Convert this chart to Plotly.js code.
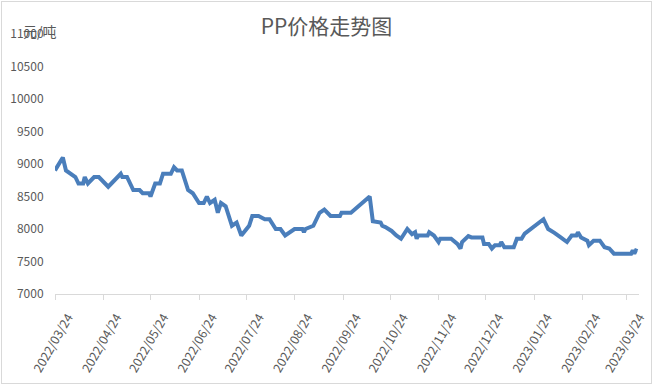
<!DOCTYPE html>
<html>
<head>
<meta charset="utf-8">
<script src="https://cdn.plot.ly/plotly-3.0.1.min.js"></script>
<style>
html,body{margin:0;padding:0;background:#fff;}
#wrap{position:relative;width:653px;height:385px;}
#chart{width:653px;height:385px;}
#frame{position:absolute;left:1px;top:1px;width:649px;height:381px;border:1px solid #d9d9d9;pointer-events:none;}
</style>
</head>
<body>
<div id="wrap"><div id="chart"></div><div id="frame"></div></div>
<script>
// Dates of the price series (vertices)
const dates = [
 '2022-03-24','2022-03-29','2022-03-31','2022-04-06','2022-04-08','2022-04-11','2022-04-12','2022-04-14',
 '2022-04-18','2022-04-21','2022-04-27','2022-05-05','2022-05-06','2022-05-09','2022-05-13','2022-05-17',
 '2022-05-19','2022-05-23','2022-05-24','2022-05-27','2022-05-30','2022-06-01','2022-06-06','2022-06-08',
 '2022-06-10','2022-06-13','2022-06-17','2022-06-20','2022-06-24','2022-06-27','2022-06-29','2022-07-01',
 '2022-07-04','2022-07-06','2022-07-08','2022-07-11','2022-07-15','2022-07-18','2022-07-21','2022-07-26',
 '2022-07-28','2022-08-01','2022-08-05','2022-08-08','2022-08-12','2022-08-15','2022-08-18','2022-08-24',
 '2022-08-29','2022-08-30','2022-08-31','2022-09-05','2022-09-09','2022-09-12','2022-09-16','2022-09-22',
 '2022-09-23','2022-09-29','2022-10-11','2022-10-13','2022-10-18','2022-10-19','2022-10-21','2022-10-25',
 '2022-10-28','2022-10-31','2022-11-04','2022-11-07','2022-11-09','2022-11-10','2022-11-11','2022-11-17',
 '2022-11-18','2022-11-21','2022-11-24','2022-11-25','2022-12-02','2022-12-06','2022-12-08','2022-12-09',
 '2022-12-13','2022-12-15','2022-12-22','2022-12-23','2022-12-26','2022-12-28','2022-12-30','2023-01-02',
 '2023-01-03','2023-01-05','2023-01-11','2023-01-13','2023-01-16','2023-01-18','2023-01-30','2023-02-02',
 '2023-02-06','2023-02-08','2023-02-10','2023-02-14','2023-02-17','2023-02-20','2023-02-21','2023-02-23',
 '2023-02-27','2023-02-28','2023-03-03','2023-03-07','2023-03-10','2023-03-13','2023-03-16','2023-03-27',
 '2023-03-28','2023-03-29','2023-03-30','2023-03-31'
];
// PP price, 元/吨
const prices = [
 8900,9100,8900,8800,8700,8700,8800,8700,
 8800,8800,8650,8850,8800,8800,8600,8600,
 8550,8550,8500,8700,8700,8850,8850,8950,
 8900,8900,8600,8550,8400,8400,8500,8400,
 8450,8250,8400,8350,8050,8100,7900,8050,
 8200,8200,8150,8150,8000,8000,7900,8000,
 8000,7950,8000,8050,8250,8300,8200,8200,
 8250,8250,8500,8120,8100,8050,8030,7970,
 7900,7850,8000,7920,7950,7850,7900,7900,
 7950,7900,7800,7850,7850,7770,7700,7800,
 7890,7870,7870,7770,7770,7700,7750,7750,
 7800,7720,7720,7850,7850,7930,8150,8000,
 7940,7900,7870,7800,7900,7900,7950,7870,
 7820,7750,7820,7820,7720,7700,7620,7620,
 7670,7620,7670,7660
];
const tickDates = ['2022-03-24','2022-04-24','2022-05-24','2022-06-24','2022-07-24','2022-08-24','2022-09-24',
 '2022-10-24','2022-11-24','2022-12-24','2023-01-24','2023-02-24','2023-03-24'];
const tickLabels = ['2022/03/24','2022/04/24','2022/05/24','2022/06/24','2022/07/24','2022/08/24','2022/09/24',
 '2022/10/24','2022/11/24','2022/12/24','2023/01/24','2023/02/24','2023/03/24'];
const titleText = 'PP价格走势图';
const unitText = '元/吨';

const FONT = '"Noto Sans CJK SC", "Noto Sans", sans-serif';
const GRAY = '#595959';

Plotly.newPlot('chart', [{
  x: dates, y: prices, type: 'scatter', mode: 'lines',
  line: {color: '#4A7EBB', width: 4},
  hoverinfo: 'skip'
}], {
  width: 653, height: 385,
  margin: {l: 55, r: 14, t: 34, b: 91},
  paper_bgcolor: '#fff', plot_bgcolor: '#fff',
  showlegend: false,
  title: {text: titleText, font: {family: FONT, size: 21, color: GRAY}, x: 0.5, xanchor: 'center', y: 0.93, yanchor: 'middle'},
  xaxis: {
    type: 'date', range: ['2022-03-24', '2023-04-01'],
    tickmode: 'array', tickvals: tickDates, ticktext: tickLabels,
    tickangle: -60, ticks: 'outside', ticklen: 5, tickcolor: '#d9d9d9', tickwidth: 1,
    showline: true, linecolor: '#d9d9d9', linewidth: 1,
    showgrid: false, zeroline: false, ticklabelshift: 13, ticklabelstandoff: 5,
    tickfont: {family: FONT, size: 12.5, color: GRAY}
  },
  yaxis: {
    range: [7000, 11000], dtick: 500, tick0: 7000, tickformat: 'd',
    showgrid: false, zeroline: false, showline: false,
    ticks: 'outside', ticklen: 8, tickcolor: 'rgba(0,0,0,0)',
    tickfont: {family: FONT, size: 12, color: GRAY}
  },
  annotations: [{
    text: unitText, xref: 'paper', yref: 'paper', x: -0.058, y: 1.01,
    xanchor: 'left', yanchor: 'middle', showarrow: false,
    font: {family: FONT, size: 14, color: GRAY}
  }]
}, {staticPlot: true});
</script>
</body>
</html>
